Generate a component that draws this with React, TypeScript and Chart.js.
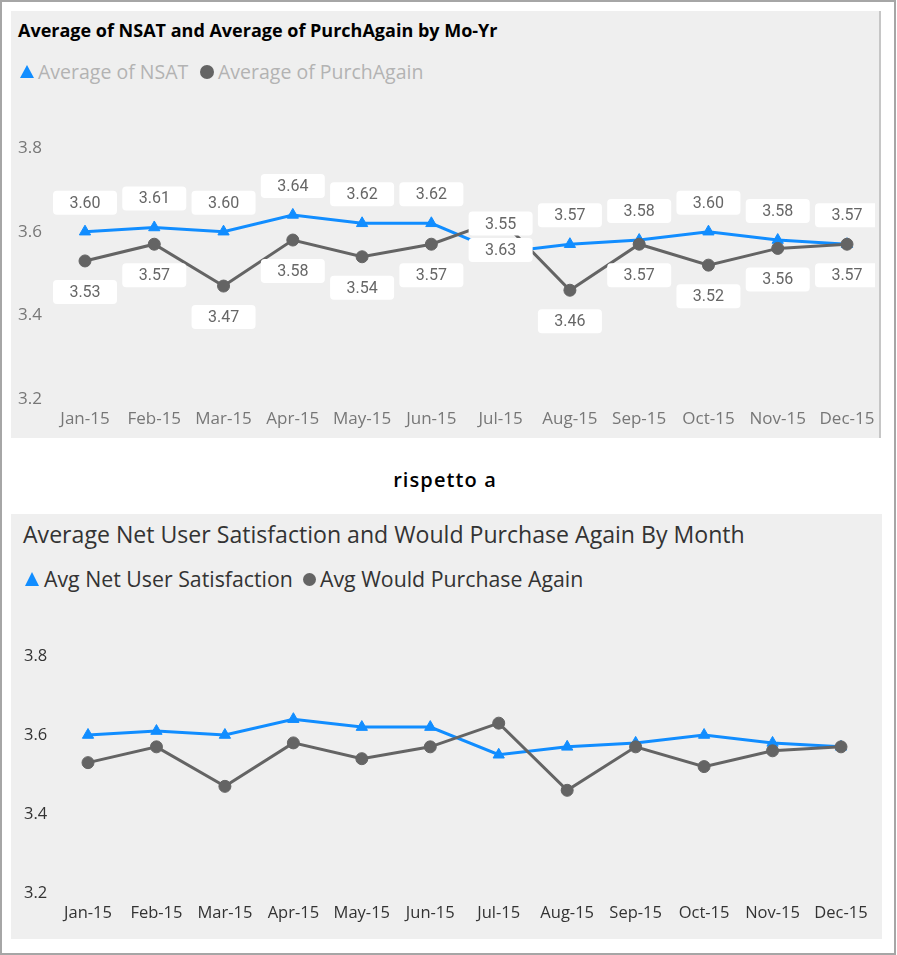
import React, { useEffect, useRef } from "react";
import { Chart, registerables } from "chart.js";

Chart.register(...registerables);

const months = ["Jan-15", "Feb-15", "Mar-15", "Apr-15", "May-15", "Jun-15", "Jul-15", "Aug-15", "Sep-15", "Oct-15", "Nov-15", "Dec-15"];
const nsat = [3.6, 3.61, 3.6, 3.64, 3.62, 3.62, 3.55, 3.57, 3.58, 3.6, 3.58, 3.57];
const purchAgain = [3.53, 3.57, 3.47, 3.58, 3.54, 3.57, 3.63, 3.46, 3.57, 3.52, 3.56, 3.57];
const yMin = 3.2;
const yMax = 3.8;
const yStep = 0.2;

const topTitle = "Average of NSAT and Average of PurchAgain by Mo-Yr";
const topSeriesNames = ["Average of NSAT", "Average of PurchAgain"];
const middleText = "rispetto a";
const bottomTitle = "Average Net User Satisfaction and Would Purchase Again By Month";
const bottomSeriesNames = ["Avg Net User Satisfaction", "Avg Would Purchase Again"];

const BLUE = "#118DFF";
const GRAY = "#646464";
const FONT = "'Open Sans', 'Noto Sans', sans-serif";

const boxLabelPlugin = {
  id: "boxLabels",
  afterDatasetsDraw(chart: any, _args: any, opts: any) {
    if (!opts || !opts.enabled) return;
    const ctx = chart.ctx;
    chart.data.datasets.forEach((ds: any, di: number) => {
      const meta = chart.getDatasetMeta(di);
      const off = ds.labelOffset || 0;
      meta.data.forEach((pt: any, i: number) => {
        const v = ds.data[i];
        const cx = pt.x;
        const cy = pt.y + off;
        ctx.save();
        ctx.fillStyle = "#ffffff";
        ctx.beginPath();
        ctx.roundRect(cx - 32, cy - 12, 64, 24, 4);
        ctx.fill();
        ctx.fillStyle = "#666666";
        ctx.font = "16px Roboto";
        ctx.textAlign = "center";
        ctx.textBaseline = "middle";
        ctx.fillText(Number(v).toFixed(2), cx, cy + 1);
        ctx.restore();
      });
    });
  },
};

type ChartSpec = {
  width: number;
  height: number;
  padLeft: number;
  padRight: number;
  padTop: number;
  yAxisWidth: number;
  xAxisHeight: number;
  xTickPadding: number;
  tickColor: string;
  tickSize: number;
  labels: boolean;
  names: string[];
};

function LineChart({ spec }: { spec: ChartSpec }) {
  const ref = useRef<HTMLCanvasElement | null>(null);
  useEffect(() => {
    if (!ref.current) return;
    const chart = new Chart(ref.current, {
      type: "line",
      data: {
        labels: months,
        datasets: [
          {
            label: spec.names[0],
            data: nsat,
            borderColor: BLUE,
            backgroundColor: BLUE,
            pointStyle: "triangle",
            pointRadius: 6.5,
            pointBorderWidth: 1,
            borderWidth: 3,
            order: 1,
            labelOffset: -29,
          } as any,
          {
            label: spec.names[1],
            data: purchAgain,
            borderColor: GRAY,
            backgroundColor: GRAY,
            pointStyle: "circle",
            pointRadius: 6,
            pointBorderWidth: 1,
            borderWidth: 3,
            order: 0,
            labelOffset: 31,
          } as any,
        ],
      },
      options: {
        animation: false,
        responsive: false,
        maintainAspectRatio: false,
        layout: { padding: { left: spec.padLeft, right: spec.padRight, top: spec.padTop, bottom: 0 } },
        plugins: {
          legend: { display: false },
          title: { display: false },
          tooltip: { enabled: false },
          boxLabels: { enabled: spec.labels },
        } as any,
        scales: {
          x: {
            grid: { display: false, drawTicks: false },
            border: { display: false },
            ticks: {
              color: spec.tickColor,
              font: { family: FONT, size: spec.tickSize },
              padding: spec.xTickPadding,
              maxRotation: 0,
              autoSkip: false,
            },
            afterFit(s: any) {
              s.height = spec.xAxisHeight;
              s.paddingLeft = 0;
              s.paddingRight = 0;
            },
          },
          y: {
            min: yMin,
            max: yMax,
            grid: { display: false, drawTicks: false },
            border: { display: false },
            ticks: {
              stepSize: yStep,
              color: spec.tickColor,
              font: { family: FONT, size: spec.tickSize },
              crossAlign: "far",
              callback: (v: any) => Number(v).toFixed(1),
            },
            afterFit(s: any) {
              s.width = spec.yAxisWidth;
            },
          },
        },
      },
      plugins: [boxLabelPlugin],
    });
    return () => chart.destroy();
  }, [spec]);
  return <canvas ref={ref} width={spec.width} height={spec.height} style={{ display: "block" }} />;
}

const topSpec: ChartSpec = {
  width: 864,
  height: 338,
  padLeft: 7,
  padRight: 28,
  padTop: 48,
  yAxisWidth: 67,
  xAxisHeight: 39,
  xTickPadding: 10,
  tickColor: "#777777",
  tickSize: 17,
  labels: true,
  names: topSeriesNames,
};

const bottomSpec: ChartSpec = {
  width: 871,
  height: 339,
  padLeft: 13,
  padRight: 41,
  padTop: 56,
  yAxisWidth: 64,
  xAxisHeight: 46,
  xTickPadding: 10,
  tickColor: "#333333",
  tickSize: 16.5,
  labels: false,
  names: bottomSeriesNames,
};

function Triangle({ left, top, size, color }: any) {
  return (
    <div
      style={{
        position: "absolute",
        left,
        top,
        width: 0,
        height: 0,
        borderLeft: `${size / 2}px solid transparent`,
        borderRight: `${size / 2}px solid transparent`,
        borderBottom: `${size - 1}px solid ${color}`,
      }}
    />
  );
}

function Dot({ left, top, size, color }: any) {
  return (
    <div
      style={{
        position: "absolute",
        left,
        top,
        width: size,
        height: size,
        borderRadius: "50%",
        background: color,
      }}
    />
  );
}

function Text({ left, top, size, color, weight, children, lineHeight }: any) {
  return (
    <div
      style={{
        position: "absolute",
        left,
        top,
        fontFamily: FONT,
        fontSize: size,
        fontWeight: weight || 400,
        color,
        lineHeight: `${lineHeight}px`,
        whiteSpace: "nowrap",
      }}
    >
      {children}
    </div>
  );
}

export default function App() {
  return (
    <div style={{ position: "absolute", left: 0, top: 0, width: 897, height: 955, background: "#fff", overflow: "hidden" }}>
      <div
        style={{
          position: "absolute",
          left: 0,
          top: 0,
          width: 896,
          height: 955,
          boxSizing: "border-box",
          border: "2px solid #a6a6a6",
        }}
      />
      {/* top panel */}
      <div
        style={{
          position: "absolute",
          left: 11,
          top: 11,
          width: 870,
          height: 427,
          boxSizing: "border-box",
          background: "#efefef",
          borderRight: "2px solid #c6c6c6",
        }}
      />
      <Text left={18} top={19} size={18} weight={700} color="#000" lineHeight={22}>
        {topTitle}
      </Text>
      <Triangle left={20} top={65} size={14} color={BLUE} />
      <Text left={38} top={59} size={19.5} color="#b3b3b3" lineHeight={26}>
        {topSeriesNames[0]}
      </Text>
      <Dot left={200} top={65} size={14} color={GRAY} />
      <Text left={218} top={59} size={19.5} color="#b3b3b3" lineHeight={26}>
        {topSeriesNames[1]}
      </Text>
      <div style={{ position: "absolute", left: 11, top: 100 }}>
        <LineChart spec={topSpec} />
      </div>

      {/* middle text */}
      <div
        style={{
          position: "absolute",
          left: 345,
          top: 467,
          width: 200,
          textAlign: "center",
          fontFamily: FONT,
          fontSize: 20,
          fontWeight: 600,
          letterSpacing: "1.1px",
          color: "#000",
          lineHeight: "26px",
        }}
      >
        {middleText}
      </div>

      {/* bottom panel */}
      <div
        style={{
          position: "absolute",
          left: 11,
          top: 514,
          width: 871,
          height: 425,
          background: "#efefef",
        }}
      />
      <Text left={23} top={519} size={23.1} color="#333333" lineHeight={30}>
        {bottomTitle}
      </Text>
      <Triangle left={25} top={572} size={15} color={BLUE} />
      <Text left={44} top={565} size={21.3} color="#333333" lineHeight={28}>
        {bottomSeriesNames[0]}
      </Text>
      <Dot left={303} top={573} size={13} color={GRAY} />
      <Text left={320} top={565} size={21.3} color="#333333" lineHeight={28}>
        {bottomSeriesNames[1]}
      </Text>
      <div style={{ position: "absolute", left: 11, top: 600 }}>
        <LineChart spec={bottomSpec} />
      </div>
    </div>
  );
}
